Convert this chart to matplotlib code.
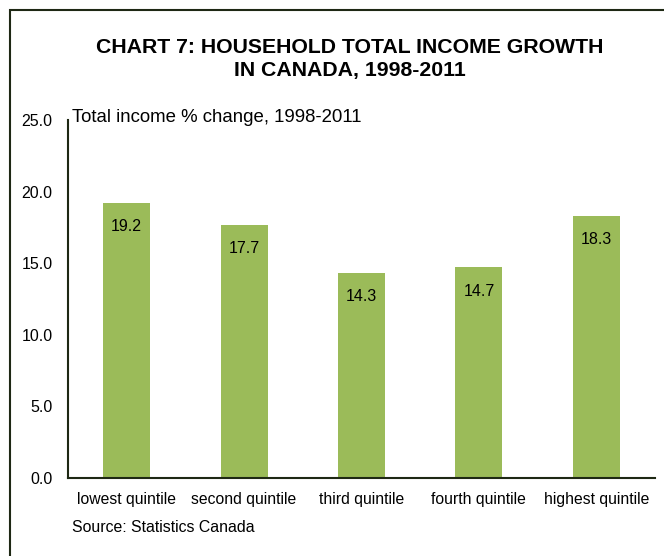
import matplotlib.pyplot as plt
from matplotlib.patches import Rectangle

plt.rcParams['font.family'] = ['Liberation Sans', 'DejaVu Sans']

categories = ['lowest quintile', 'second quintile', 'third quintile',
              'fourth quintile', 'highest quintile']
values = [19.2, 17.7, 14.3, 14.7, 18.3]
yticks = [0.0, 5.0, 10.0, 15.0, 20.0, 25.0]

fig = plt.figure(figsize=(6.64, 5.56), dpi=100)

# frame round the chart (only left and top edges show in the crop)
fig.patches.append(Rectangle((9.5 / 664, -0.1), 2.0, 1.1 - 9.5 / 556,
                             transform=fig.transFigure, fill=False,
                             edgecolor='#1e2814', linewidth=1.5))

ax = fig.add_axes([68 / 664, 1 - 478 / 556, 587 / 664, 358 / 556])
x = range(len(categories))
bars = ax.bar(x, values, width=0.4, color='#9bbb59')

for i, v in enumerate(values):
    ax.text(i, v - 1.65, f'{v:.1f}', ha='center', va='center', fontsize=11.5)

ax.set_xlim(-0.5, len(categories) - 0.5)
ax.set_ylim(0, 25)
ax.set_yticks(yticks)
ax.set_yticklabels([f'{t:.1f}' for t in yticks], fontsize=11.5)
ax.set_xticks(list(x))
ax.set_xticklabels(categories, fontsize=11.3)
ax.tick_params(length=0)
ax.tick_params(axis='x', pad=10)
ax.tick_params(axis='y', pad=11)

for s in ['top', 'right']:
    ax.spines[s].set_visible(False)
for s in ['left', 'bottom']:
    ax.spines[s].set_color('#1e2814')
    ax.spines[s].set_linewidth(1.5)

fig.text(350 / 664, 1 - 59 / 556, 'CHART 7: HOUSEHOLD TOTAL INCOME GROWTH\nIN CANADA, 1998-2011',
         ha='center', va='center', fontsize=15.3, fontweight='bold', linespacing=1.22)
fig.text(72 / 664, 1 - 117 / 556, 'Total income % change, 1998-2011',
         ha='left', va='center', fontsize=13.4)
fig.text(72 / 664, 1 - 527 / 556, 'Source: Statistics Canada',
         ha='left', va='center', fontsize=11.4)

fig.savefig('out.png', dpi=100)
